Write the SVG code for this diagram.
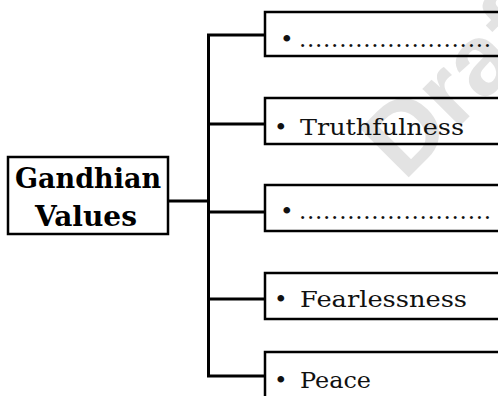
<svg xmlns="http://www.w3.org/2000/svg" width="498" height="396" viewBox="0 0 498 396">
<style>
.box{fill:none;stroke:#000;stroke-width:2.5}
.ln{fill:none;stroke:#000;stroke-width:3}
.t{font-family:"DejaVu Serif","Liberation Serif",serif;font-size:23px;fill:#111}
.b{font-family:"DejaVu Serif","Liberation Serif",serif;font-size:28px;font-weight:bold;fill:#000;text-anchor:middle}
.wm{font-family:"Liberation Sans","DejaVu Sans",sans-serif;font-size:100px;font-weight:bold;fill:#e3e3e3}
</style>
<rect width="498" height="396" fill="#fff"/>
<text class="wm" x="404" y="182" transform="rotate(-45 404 182)">Draft</text>
<g id="connectors">
<path class="ln" d="M169 201H208.5M208.5 33.5V377.5M207 35H265M207 124H265M207 212H265M207 299H265M207 376H265"/>
</g>
<g id="center">
<rect class="box" x="8" y="157" width="160" height="77"/>
<text class="b" x="88" y="188" textLength="146" lengthAdjust="spacingAndGlyphs">Gandhian</text>
<text class="b" x="86" y="226" textLength="102" lengthAdjust="spacingAndGlyphs">Values</text>
</g>
<g id="n1">
<rect class="box" x="265" y="12" width="260" height="44"/>
<text class="t" x="280" y="47">•</text>
<text class="t" x="299" y="47" textLength="192" lengthAdjust="spacing">........................</text>
</g>
<g id="n2">
<rect class="box" x="265" y="98" width="260" height="46"/>
<text class="t" x="274" y="135">•</text>
<text class="t" x="300" y="135" textLength="164" lengthAdjust="spacingAndGlyphs">Truthfulness</text>
</g>
<g id="n3">
<rect class="box" x="265" y="185" width="260" height="46"/>
<text class="t" x="280" y="219">•</text>
<text class="t" x="299" y="219" textLength="192" lengthAdjust="spacing">........................</text>
</g>
<g id="n4">
<rect class="box" x="265" y="273" width="260" height="46"/>
<text class="t" x="274" y="307">•</text>
<text class="t" x="300" y="307" textLength="167" lengthAdjust="spacingAndGlyphs">Fearlessness</text>
</g>
<g id="n5">
<rect class="box" x="265" y="352" width="260" height="60"/>
<text class="t" x="274" y="388">•</text>
<text class="t" x="300" y="388" textLength="71" lengthAdjust="spacingAndGlyphs">Peace</text>
</g>
</svg>
